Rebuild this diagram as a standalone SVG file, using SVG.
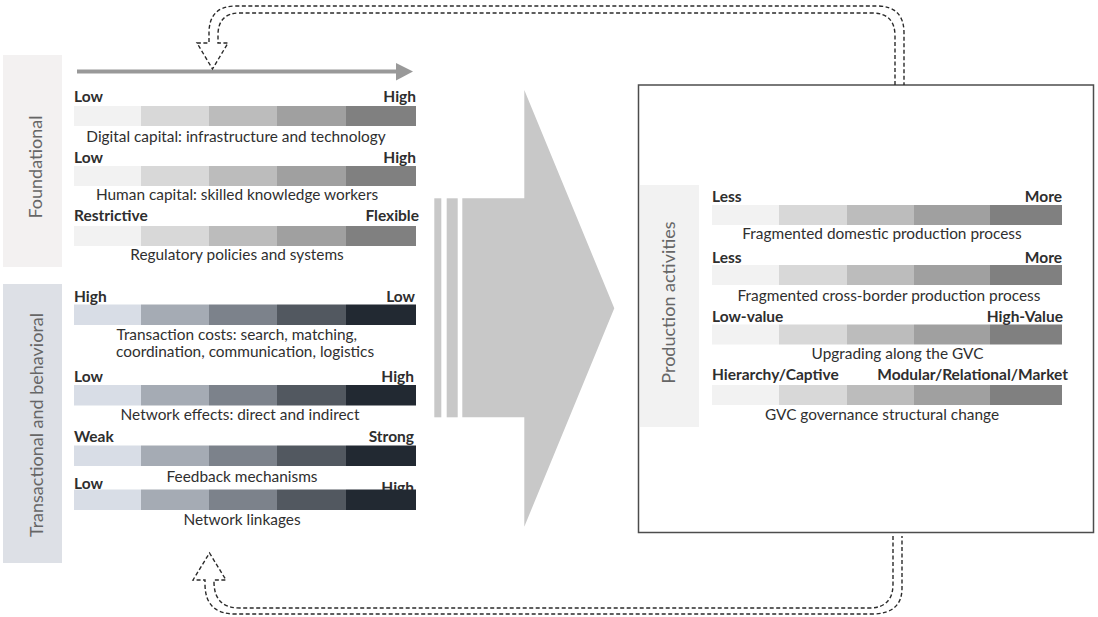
<svg xmlns="http://www.w3.org/2000/svg" width="1098" height="617" viewBox="0 0 1098 617">
  <style>
    .lbl { font-family: Lato, "Open Sans", "Liberation Sans", sans-serif; font-size: 15.5px; font-weight: bold; fill: #2e2e2e; }
    .desc { font-family: Lato, "Open Sans", "Liberation Sans", sans-serif; font-size: 15.4px; fill: #2f2f2f; }
    .side { font-family: Lato, "Open Sans", "Liberation Sans", sans-serif; font-size: 18px; fill: #666666; }
    .end { text-anchor: end; }
    .mid { text-anchor: middle; }
    .g1 { fill: #f2f2f2; } .g2 { fill: #d8d8d8; } .g3 { fill: #bcbcbc; } .g4 { fill: #a0a0a0; } .g5 { fill: #808080; }
    .b1 { fill: #d8dde6; } .b2 { fill: #a5abb4; } .b3 { fill: #7c828b; } .b4 { fill: #525860; } .b5 { fill: #222932; }
    .dash { fill: none; stroke: #2a2a2a; stroke-width: 1.4; stroke-dasharray: 4 2.5; }
  </style>
  <defs>
    <!-- five-step grey scale, left panel -->
    <g id="greyBarL">
      <rect class="g1" x="74" y="0" width="67" height="20"/>
      <rect class="g2" x="141" y="0" width="68" height="20"/>
      <rect class="g3" x="209" y="0" width="68" height="20"/>
      <rect class="g4" x="277" y="0" width="69" height="20"/>
      <rect class="g5" x="346" y="0" width="70" height="20"/>
    </g>
    <!-- five-step slate scale, left panel -->
    <g id="slateBar">
      <rect class="b1" x="74" y="0" width="67" height="20.5"/>
      <rect class="b2" x="141" y="0" width="68" height="20.5"/>
      <rect class="b3" x="209" y="0" width="68" height="20.5"/>
      <rect class="b4" x="277" y="0" width="69" height="20.5"/>
      <rect class="b5" x="346" y="0" width="70" height="20.5"/>
    </g>
    <!-- five-step grey scale, production panel -->
    <g id="greyBarR">
      <rect class="g1" x="712" y="0" width="67" height="20"/>
      <rect class="g2" x="779" y="0" width="68" height="20"/>
      <rect class="g3" x="847" y="0" width="67" height="20"/>
      <rect class="g4" x="914" y="0" width="76" height="20"/>
      <rect class="g5" x="990" y="0" width="72" height="20"/>
    </g>
  </defs>

  <rect width="1098" height="617" fill="#ffffff"/>

  <!-- side panels -->
  <g id="foundational">
    <rect x="3" y="55" width="59" height="212" fill="#f3f1f1"/>
    <text class="side mid" transform="translate(42,167) rotate(-90)">Foundational</text>
  </g>
  <g id="transactional">
    <rect x="3" y="284" width="59" height="279" fill="#dde0e6"/>
    <text class="side mid" transform="translate(42.5,425) rotate(-90)">Transactional and behavioral</text>
  </g>

  <!-- foundational scales -->
  <g id="digital-capital">
    <use href="#greyBarL" y="106"/>
    <text class="lbl" x="74" y="102">Low</text>
    <text class="lbl end" x="416" y="102">High</text>
    <text class="desc mid" x="236" y="142">Digital capital: infrastructure and technology</text>
  </g>
  <g id="human-capital">
    <use href="#greyBarL" y="166"/>
    <text class="lbl" x="74" y="163">Low</text>
    <text class="lbl end" x="416" y="163">High</text>
    <text class="desc mid" x="237" y="200">Human capital: skilled knowledge workers</text>
  </g>
  <g id="regulatory">
    <use href="#greyBarL" y="226"/>
    <text class="lbl" x="74" y="221">Restrictive</text>
    <text class="lbl end" x="419" y="221">Flexible</text>
    <text class="desc mid" x="237" y="260">Regulatory policies and systems</text>
  </g>

  <!-- transactional scales -->
  <g id="transaction-costs">
    <use href="#slateBar" y="304.5"/>
    <text class="lbl" x="74" y="302">High</text>
    <text class="lbl end" x="415" y="302">Low</text>
    <text class="desc" x="116.5" y="340">Transaction costs: search, matching,</text>
    <text class="desc" x="116" y="357">coordination, communication, logistics</text>
  </g>
  <g id="network-effects">
    <use href="#slateBar" y="385"/>
    <text class="lbl" x="74" y="382">Low</text>
    <text class="lbl end" x="414" y="382">High</text>
    <text class="desc mid" x="240" y="419.5">Network effects: direct and indirect</text>
  </g>
  <g id="feedback">
    <use href="#slateBar" y="445.5"/>
    <text class="lbl" x="74" y="442">Weak</text>
    <text class="lbl end" x="414" y="442">Strong</text>
    <text class="desc mid" x="242" y="482">Feedback mechanisms</text>
  </g>
  <g id="network-linkages">
    <text class="lbl end" x="414" y="493">High</text>
    <use href="#slateBar" y="489.5"/>
    <text class="lbl" x="74" y="488.5">Low</text>
    <text class="desc mid" x="242" y="525">Network linkages</text>
  </g>

  <!-- production activities box -->
  <g id="production">
    <rect x="638.5" y="85" width="455" height="447.5" fill="#ffffff" stroke="#4d4d4d" stroke-width="1.5"/>
    <rect x="640" y="185" width="59" height="242" fill="#f2f2f2"/>
    <text class="side mid" transform="translate(675,302.5) rotate(-90)">Production activities</text>
  </g>
  <g id="domestic">
    <use href="#greyBarR" y="205"/>
    <text class="lbl" x="712" y="202">Less</text>
    <text class="lbl end" x="1062" y="202">More</text>
    <text class="desc mid" x="882" y="238.5">Fragmented domestic production process</text>
  </g>
  <g id="cross-border">
    <use href="#greyBarR" y="265"/>
    <text class="lbl" x="712" y="263">Less</text>
    <text class="lbl end" x="1062" y="263">More</text>
    <text class="desc mid" x="889" y="301">Fragmented cross-border production process</text>
  </g>
  <g id="upgrading">
    <use href="#greyBarR" y="324.5"/>
    <text class="lbl" x="712" y="322">Low-value</text>
    <text class="lbl end" x="1063" y="322">High-Value</text>
    <text class="desc mid" x="897.5" y="358.5">Upgrading along the GVC</text>
  </g>
  <g id="governance">
    <use href="#greyBarR" y="385"/>
    <text class="lbl" x="712" y="380">Hierarchy/Captive</text>
    <text class="lbl end" x="1068" y="380">Modular/Relational/Market</text>
    <text class="desc mid" x="882" y="420">GVC governance structural change</text>
  </g>

  <!-- connectors -->
  <g id="connectors">
    <!-- intensity scale arrow -->
    <line x1="77" y1="71.5" x2="398" y2="71.5" stroke="#999999" stroke-width="4"/>
    <polygon points="396,63 413,71.5 396,80.5" fill="#999999"/>
    <!-- main block arrow -->
    <rect x="434.3" y="198.3" width="7" height="219" fill="#c8c8c8"/>
    <rect x="446.7" y="198.3" width="11" height="219" fill="#c8c8c8"/>
    <polygon points="462.3,198.3 524.3,198.3 524.3,90 614.3,308.3 524.3,526.7 524.3,417.3 462.3,417.3" fill="#c8c8c8"/>
    <!-- feedback loop, top -->
    <path class="dash" d="M895 85 L895 36 Q895 13 872 13 L240 13 Q218 13 218 35 L218 43 L228 43 L212.5 69 L197 43 L209 43 L209 33 Q209 6 236 6 L877 6 Q904 6 904 33 L904 85"/>
    <!-- feedback loop, bottom -->
    <path class="dash" d="M893 536 L893 584 Q893 608 869 608 L240 608 Q214 608 214 582 L214 580 L226 580 L209.5 553 L193 580 L205 580 L205 584 Q205 614 235 614 L872 614 Q902 614 902 588 L902 536"/>
  </g>
</svg>
